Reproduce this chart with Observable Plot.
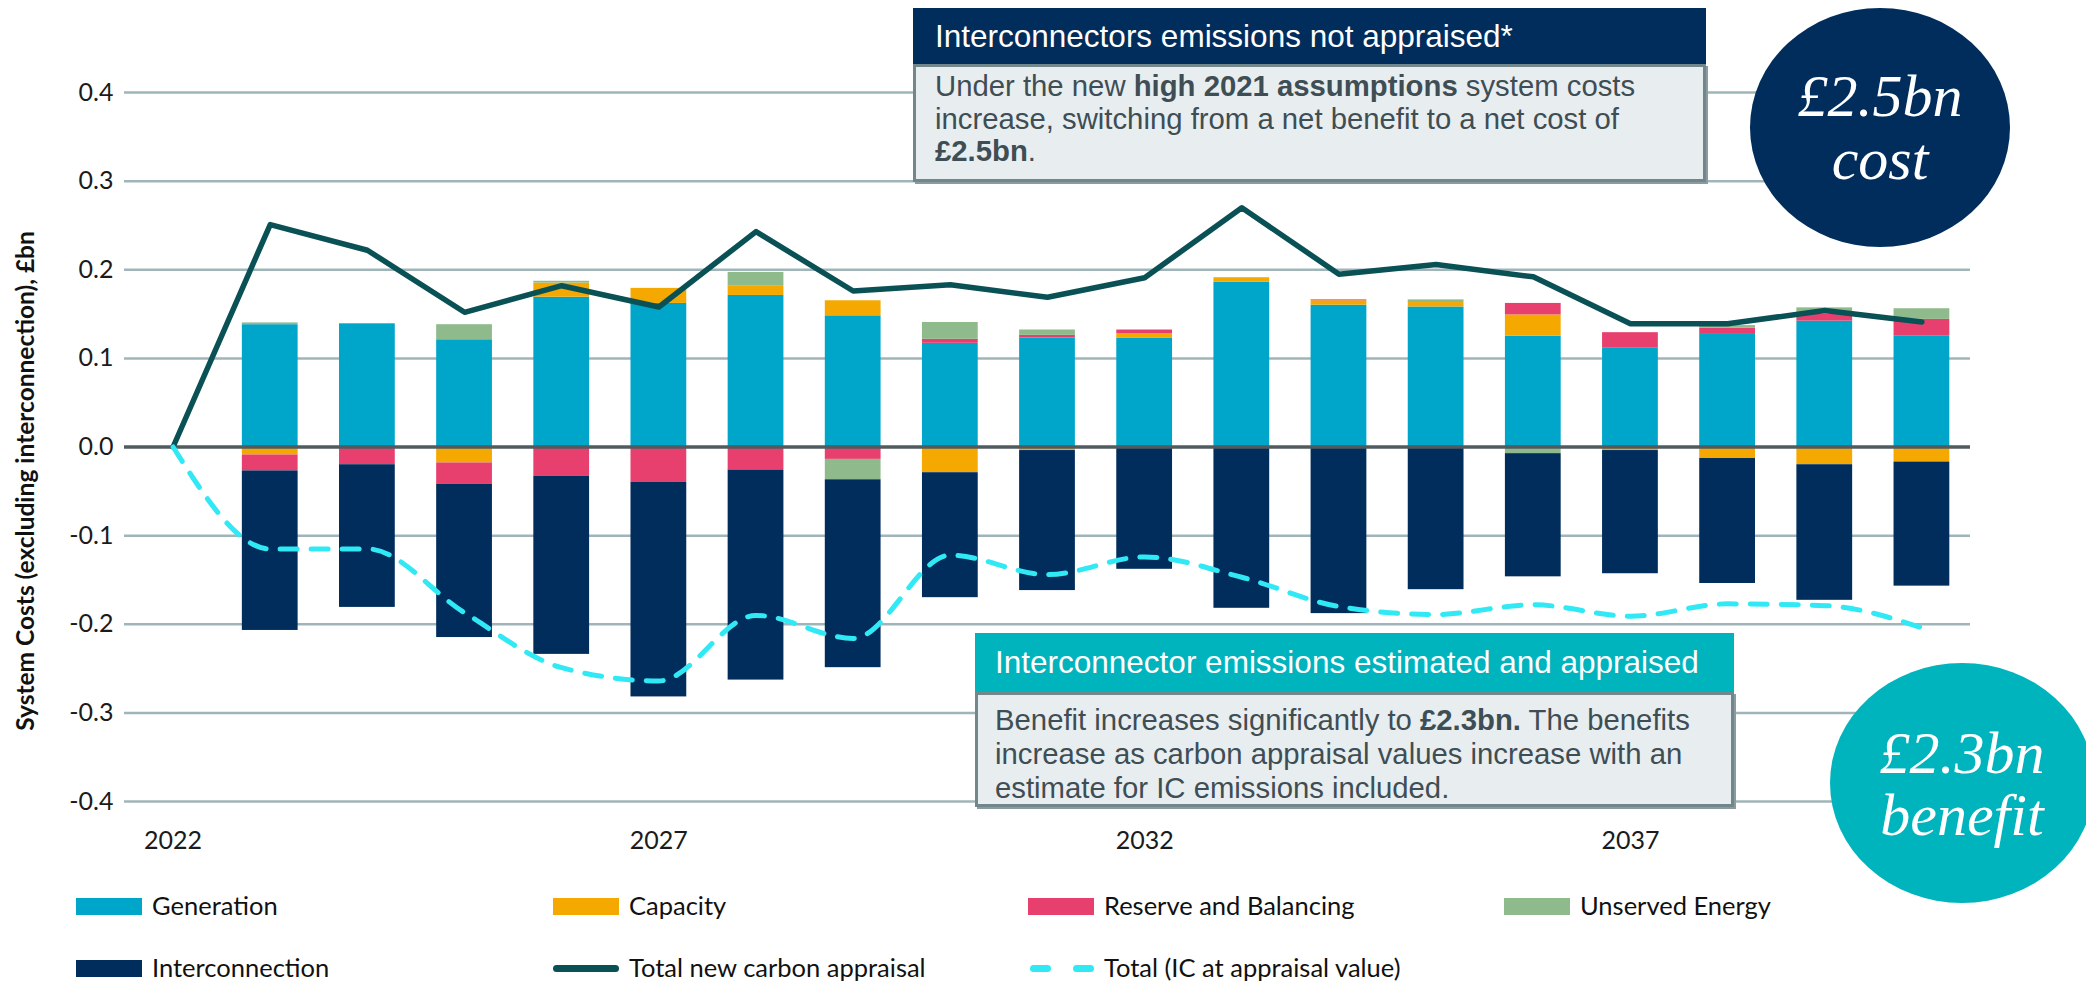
<!DOCTYPE html>
<html><head><meta charset="utf-8">
<script src="https://cdn.jsdelivr.net/npm/d3@7"></script>
<script src="https://cdn.jsdelivr.net/npm/@observablehq/plot@0.6"></script>
<style>
html,body{margin:0;padding:0;background:#fff;}
#wrap{position:relative;width:2086px;height:984px;overflow:hidden;font-family:Lato,"Liberation Sans",sans-serif;}
#chart{position:absolute;left:0;top:0;}
.abs{position:absolute;}
.ytitle{position:absolute;left:24px;top:481px;transform:translate(-50%,-50%) rotate(-90deg);white-space:nowrap;font-weight:bold;font-size:24.5px;color:#111;}
.box{position:absolute;font-family:"Liberation Sans",Arial,sans-serif;}
.hdr{color:#fff;white-space:nowrap;box-sizing:border-box;display:flex;align-items:center;}
.body{background:#e8edf0;border:3px solid #71878c;box-shadow:2px 2px 0 #8b9ca0;color:#3e4e54;white-space:nowrap;box-sizing:border-box;}
.ell{position:absolute;border-radius:50%;color:#fff;font-family:"Liberation Serif","Times New Roman",serif;font-style:italic;text-align:center;}
.ell div{position:absolute;left:0;right:0;}
.leg{position:absolute;font-size:25.5px;color:#111;line-height:1;}
.sw{position:absolute;width:66px;height:17px;}
</style></head><body><div id="wrap">
<div id="chart"></div>
<div class="ytitle">System Costs (excluding interconnection), £bn</div>

<div class="box" style="left:913px;top:8px;width:793px;">
  <div class="hdr" style="background:#002d5c;height:56px;padding-left:22px;font-size:31.5px;">Interconnectors emissions not appraised*</div>
  <div class="body" style="height:118px;padding:3px 0 0 19px;font-size:29.3px;line-height:32.5px;">Under the new <b>high 2021 assumptions</b> system costs<br>increase, switching from a net benefit to a net cost of<br><b>£2.5bn</b>.</div>
</div>

<div class="box" style="left:975px;top:633px;width:759px;">
  <div class="hdr" style="background:#00b4be;height:59px;padding-left:20px;font-size:31.5px;">Interconnector emissions estimated and appraised</div>
  <div class="body" style="height:115px;padding:8px 0 0 17px;font-size:29.3px;line-height:34px;">Benefit increases significantly to <b>£2.3bn.</b> The benefits<br>increase as carbon appraisal values increase with an<br>estimate for IC emissions included.</div>
</div>

<div class="ell" style="left:1750px;top:8px;width:260px;height:239px;background:#002d5c;">
  <div style="top:58px;font-size:60px;line-height:60px;">£2.5bn</div>
  <div style="top:121px;font-size:60px;line-height:60px;">cost</div>
</div>
<div class="ell" style="left:1830px;top:663px;width:264px;height:240px;background:#00b4be;">
  <div style="top:60px;font-size:60px;line-height:60px;">£2.3bn</div>
  <div style="top:122px;font-size:60px;line-height:60px;">benefit</div>
</div>

<div id="legend"></div>
</div>
<script>
// ---- data ----
const barYears = [2023,2024,2025,2026,2027,2028,2029,2030,2031,2032,2033,2034,2035,2036,2037,2038,2039,2040];
const generation      = [0.138,0.139,0.121,0.169,0.162,0.171,0.148,0.117,0.123,0.123,0.186,0.160,0.158,0.125,0.112,0.128,0.142,0.125];
const capacity        = [-0.009,0,-0.018,0.016,0.017,0.011,0.017,-0.029,-0.004,0.005,0.005,0.005,0.005,0.024,-0.004,-0.013,-0.020,-0.017];
const reserve         = [-0.018,-0.020,-0.024,-0.033,-0.040,-0.026,-0.014,0.0045,0.003,0.004,0,0.001,0,0.013,0.017,0.006,0.008,0.019];
const unserved        = [0.002,0,0.017,0.002,0,0.015,-0.023,0.019,0.006,0,0,0,0.003,-0.0075,0,0.003,0.007,0.012];
const interconnection = [-0.180,-0.161,-0.173,-0.201,-0.242,-0.237,-0.212,-0.141,-0.158,-0.138,-0.182,-0.188,-0.161,-0.139,-0.139,-0.141,-0.153,-0.140];
const lineYears = [2022,2023,2024,2025,2026,2027,2028,2029,2030,2031,2032,2033,2034,2035,2036,2037,2038,2039,2040];
const totalNewCarbon = [0,0.251,0.222,0.152,0.182,0.158,0.243,0.176,0.183,0.169,0.191,0.270,0.195,0.206,0.192,0.139,0.139,0.154,0.141];
const totalICAppraisal = [0,-0.115,-0.115,-0.187,-0.249,-0.264,-0.190,-0.216,-0.122,-0.144,-0.124,-0.147,-0.180,-0.189,-0.178,-0.191,-0.177,-0.179,-0.204];
const seriesNames = ["Generation","Capacity","Reserve and Balancing","Unserved Energy","Interconnection"];
const lineNames = ["Total new carbon appraisal","Total (IC at appraisal value)"];
const xTicks = [2022,2027,2032,2037];
const yTicks = [-0.4,-0.3,-0.2,-0.1,0,0.1,0.2,0.3,0.4];

// ---- styles ----
const seriesColors = ["#00a6c9","#f5a800","#e8406e","#8fba8b","#002d5c"];
const solidColor = "#0a5156", dashColor = "#30e9f5";

const seriesValues = [generation, capacity, reserve, unserved, interconnection];
const rows = [];
seriesNames.forEach((s, i) => barYears.forEach((yr, j) => rows.push({year: yr, series: s, value: seriesValues[i][j]})));
const lineRows = lineYears.map((yr, i) => ({year: yr, carbon: totalNewCarbon[i], ic: totalICAppraisal[i]}));
const halfBar = 0.287;

const plot = Plot.plot({
  width: 2086, height: 870,
  marginLeft: 124, marginRight: 116, marginTop: 92, marginBottom: 69,
  style: {fontFamily: "Lato, 'Liberation Sans', sans-serif", fontSize: "25px", color: "#1b1b1b", background: "transparent"},
  x: {type: "linear", domain: [2021.5, 2040.5]},
  y: {domain: [-0.4, 0.4]},
  color: {domain: seriesNames, range: seriesColors},
  marks: [
    Plot.ruleY(yTicks.filter(d => d !== 0), {stroke: "#a0b5b9", strokeWidth: 2.5}),
    Plot.rectY(rows, {x1: d => d.year - halfBar, x2: d => d.year + halfBar, y: "value", fill: "series"}),
    Plot.ruleY([0], {stroke: "#505b5f", strokeWidth: 3.5}),
    Plot.line(lineRows, {x: "year", y: "carbon", stroke: solidColor, strokeWidth: 5.5, strokeLinecap: "round"}),
    Plot.line(lineRows, {x: "year", y: "ic", stroke: dashColor, strokeWidth: 5, strokeDasharray: "17,14", strokeLinecap: "round", curve: "monotone-x"}),
    Plot.axisX({ticks: xTicks, tickFormat: d => String(d), tickSize: 0, tickPadding: 30, label: null}),
    Plot.axisY({ticks: yTicks, tickFormat: d => d.toFixed(1), tickSize: 0, tickPadding: 11, label: null})
  ]
});
document.getElementById("chart").appendChild(plot);

// ---- legend ----
const leg = document.getElementById("legend");
const legCols = [76, 553, 1028, 1504];
const legRows = [906, 968];
const items = seriesNames.map((n, i) => ({name: n, kind: "box", color: seriesColors[i]}))
  .concat([{name: lineNames[0], kind: "solid", color: solidColor}, {name: lineNames[1], kind: "dash", color: dashColor}]);
items.forEach((it, k) => {
  const col = k < 4 ? k : k - 4, row = k < 4 ? 0 : 1;
  const x = legCols[col], yc = legRows[row];
  if (it.kind === "box") {
    const s = document.createElement("div"); s.className = "sw";
    s.style.left = x + "px"; s.style.top = (yc - 8.5) + "px"; s.style.background = it.color; leg.appendChild(s);
  } else if (it.kind === "solid") {
    const s = document.createElement("div"); s.className = "abs";
    Object.assign(s.style, {left: x + "px", top: (yc - 3.5) + "px", width: "66px", height: "7px", borderRadius: "3.5px", background: it.color});
    leg.appendChild(s);
  } else {
    [0, 43].forEach(dx => {
      const s = document.createElement("div"); s.className = "abs";
      Object.assign(s.style, {left: (x + 2 + dx) + "px", top: (yc - 3.5) + "px", width: "21px", height: "7px", borderRadius: "3.5px", background: it.color});
      leg.appendChild(s);
    });
  }
  const t = document.createElement("div"); t.className = "leg";
  t.textContent = it.name; t.style.left = (x + 76) + "px"; t.style.top = (yc - 13) + "px";
  leg.appendChild(t);
});
</script>
</body></html>
